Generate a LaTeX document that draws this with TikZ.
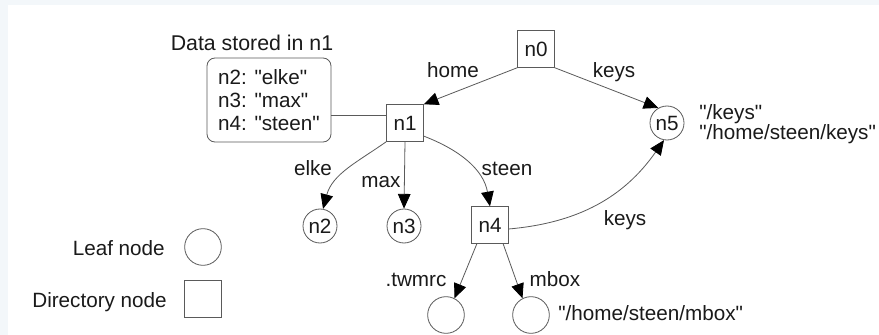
\documentclass[tikz,border=0pt]{standalone}
\usepackage{fontspec}
\setmainfont{Liberation Sans}
\usetikzlibrary{arrows.meta}
\definecolor{band}{HTML}{F3F7FA}
\definecolor{ln}{HTML}{5A5A5A}
\definecolor{txt}{HTML}{1A1A1A}
\newcommand{\dq}{\textquotedbl}
\begin{document}
\begin{tikzpicture}[x=0.75pt,y=0.75pt,
  every node/.style={font=\fontsize{15.5}{18}\selectfont, text=txt},
  dirbox/.style={draw=ln, line width=0.6pt, minimum size=27.5pt, inner sep=0pt},
  leafc/.style={draw=ln, circle, line width=0.6pt, minimum size=25.5pt, inner sep=0pt},
  bigleaf/.style={leafc, minimum size=27.5pt},
  edge/.style={draw=ln, line width=0.6pt, -{Triangle[length=11pt,width=9.5pt,color=black]}},
  lbl/.style={inner sep=0pt, text height=11pt, text depth=0pt},
]
\fill[white] (0,0) rectangle (879,-335);
\fill[band] (0,0) rectangle (879,-5);
\fill[band] (0,0) rectangle (8,-335);
\useasboundingbox (0,0) rectangle (879,-335);

% nodes
\node[dirbox] (n0) at (536,-49) {n0};
\node[dirbox] (n1) at (405,-123) {n1};
\node[leafc] (n5) at (667,-123) {n5};
\node[leafc] (n2) at (320,-226) {n2};
\node[leafc] (n3) at (404,-226) {n3};
\node[dirbox] (n4) at (490,-225) {n4};
\node[bigleaf] (tw) at (446,-315) {};
\node[bigleaf] (mb) at (531,-315) {};

% data box
\node[draw=ln, line width=0.6pt, rounded corners=6pt, minimum width=93pt, minimum height=63pt,
      align=left, inner sep=0pt, font=\fontsize{15.5}{17.25}\selectfont]
      (data) at (269,-100) {n2: \dq elke\dq\\n3: \dq max\dq\\n4: \dq steen\dq};
\node[lbl, font=\fontsize{16}{18}\selectfont] (datat) at (252,-43) {Data stored in n1};
\draw[draw=ln, line width=0.6pt] (data.-14.5) -- (data.-14.5 -| n1.west);

% legend
\node[bigleaf] (legl) at (203,-247) {};
\node[dirbox] (legd) at (203,-299) {};
\node[lbl, anchor=east] (legltxt) at (165,-248) {Leaf node};
\node[lbl, anchor=east] (legdtxt) at (167,-300) {Directory node};

% edges
\draw[edge] (n0.south west) -- (n1.north east);
\draw[edge] (n0.south east) -- (n5.120);
\draw[edge] (n1.south west) to[out=215,in=75] (n2.80);
\draw[edge] (n1.south) -- (n3.north);
\draw[edge] (n1.-35) to[out=-21,in=100] (n4.north);
\draw[edge] (n4.-12) to[out=5,in=-125] (n5.-100);
\draw[edge] (n4.-125) -- (tw.63);
\draw[edge] (n4.-55) -- (mb.117);

% edge labels
\node[lbl] (lhome) at (453,-70) {home};
\node[lbl] (lkeys1) at (614,-70) {keys};
\node[lbl] (lelke) at (313,-168) {elke};
\node[lbl] (lmax) at (381,-180) {max};
\node[lbl] (lsteen) at (507,-168) {steen};
\node[lbl] (lkeys2) at (625,-218) {keys};
\node[lbl] (ltw) at (416,-279) {.twmrc};
\node[lbl] (lmbox) at (555,-279) {mbox};

% path labels
\node[lbl, anchor=west] (pmbox) at (558,-313) {\dq/home/steen/mbox\dq};
\node[inner sep=0pt, anchor=west, align=left, font=\fontsize{15.5}{13.5}\selectfont] (pkeys) at (699,-124) {\dq/keys\dq\\\dq/home/steen/keys\dq};
\end{tikzpicture}
\end{document}
